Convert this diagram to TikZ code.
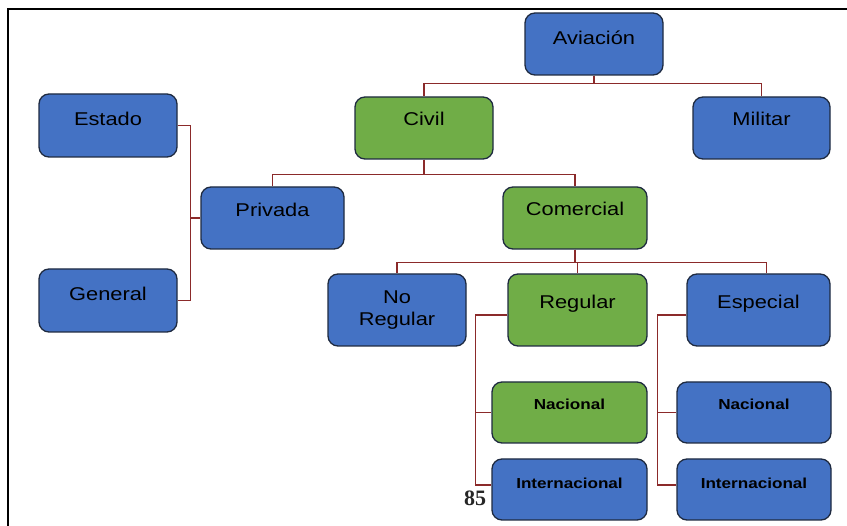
\documentclass[tikz,border=0pt]{standalone}
\usepackage{fontspec}
\setmainfont[FakeStretch=1.18]{Liberation Sans}
\newfontfamily\numfont{Liberation Serif}
\usepackage{tikz}
\usetikzlibrary{calc}
\definecolor{boxblue}{HTML}{4472C4}
\definecolor{boxgreen}{HTML}{70AD47}
\definecolor{boxline}{HTML}{1E2A40}
\definecolor{linkred}{HTML}{8B2A2A}
\newcommand\bigtext{\fontsize{18.5}{22}\selectfont}
\newcommand\smalltext{\bfseries\fontsize{14.5}{17}\selectfont}

\begin{document}
\begin{tikzpicture}[x=1pt, y=-1pt,
        box/.style={draw=boxline, line width=1.3pt, rounded corners=10pt, inner xsep=0pt, inner ysep=0pt, font=\bigtext, align=center},
        blue box/.style={box, fill=boxblue},
        green box/.style={box, fill=boxgreen},
        size/.style n args={4}{minimum width=#1, minimum height=#2, text height=#3, text depth=#4},
        link/.style={draw=linkred, line width=1.5pt}]
        \useasboundingbox (0,0) rectangle (847,526);
        \draw[line width=2pt] (8,526) -- (8,9.5) -- (847,9.5);
        \node[blue box,  size={138}{62}{32}{30}] (avia)      at (594, 44)    {Aviación};
        \node[green box, size={138}{62}{29}{33}] (civil)     at (424, 128)   {Civil};
        \node[blue box,  size={137}{62}{29}{33}] (militar)   at (761.5, 128) {Militar};
        \node[blue box,  size={138}{63}{32}{31}] (estado)    at (108, 125.5) {Estado};
        \node[blue box,  size={143}{62}{30}{32}] (privada)   at (272.5, 218) {Privada};
        \node[green box, size={144}{62}{29}{33}] (comercial) at (575, 218)   {Comercial};
        \node[blue box,  size={138}{63}{32}{31}] (general)   at (108, 300.5) {General};
        \node[blue box,  minimum width=138, minimum height=72] (noreg) at (397, 310) {No\\Regular};
        \node[green box, size={139}{72}{35}{37}] (regular)   at (577.5, 310) {Regular};
        \node[blue box,  size={143}{72}{35}{37}] (especial)  at (758.5, 310) {Especial};
        \node[green box, font=\smalltext, size={155}{61}{28}{33}] (nacreg) at (569.5, 412.5) {Nacional};
        \node[blue box,  font=\smalltext, size={155}{61}{30}{31}] (intreg) at (569.5, 489.5) {Internacional};
        \node[blue box,  font=\smalltext, size={154}{61}{28}{33}] (nacesp) at (754, 412.5)   {Nacional};
        \node[blue box,  font=\smalltext, size={154}{61}{30}{31}] (intesp) at (754, 489.5)   {Internacional};
        \node[inner sep=0pt, text=black!85] (page) at (475, 498) {\numfont\bfseries\fontsize{22}{24}\selectfont 85};
        \draw[link] (avia.south) -- +(0,8) -| (civil.north);
        \draw[link] (avia.south) -- +(0,8) -| (militar.north);
        \draw[link] (civil.south) -- +(0,15) -| (privada.north);
        \draw[link] (civil.south) -- +(0,15) -| (comercial.north);
        \draw[link] (estado.east) -- +(13,0) |- (privada.west);
        \draw[link] (general.east) -- +(13,0) |- (privada.west);
        \draw[link] (comercial.south) -- +(0,13) -| (noreg.north);
        \draw[link] (comercial.south) -- +(0,13) -| (regular.north);
        \draw[link] (comercial.south) -- +(0,13) -| ([xshift=8pt]especial.north);
        \draw[link] ([yshift=-5pt]regular.west) -- +(-32,0) |- (nacreg.west);
        \draw[link] ([yshift=-5pt]regular.west) -- +(-32,0) |- ([yshift=4.5pt]intreg.west);
        \draw[link] ([yshift=-5pt]especial.west) -- +(-29,0) |- (nacesp.west);
        \draw[link] ([yshift=-5pt]especial.west) -- +(-29,0) |- ([yshift=4.5pt]intesp.west);
    \end{tikzpicture}
\end{document}
